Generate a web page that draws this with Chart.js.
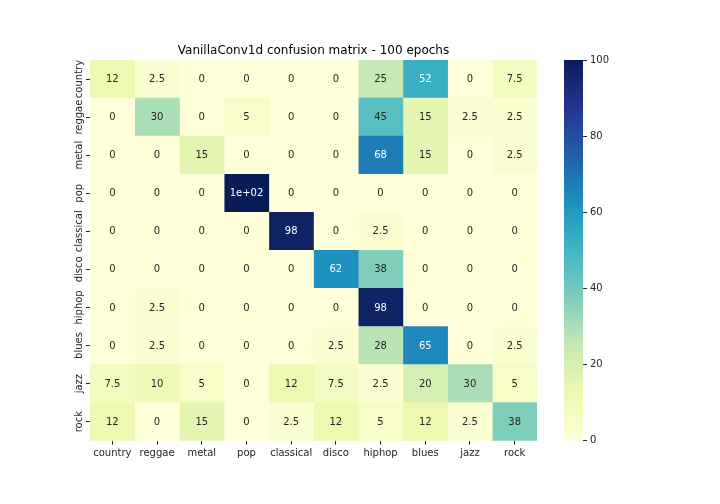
<!DOCTYPE html>
<html><head><meta charset="utf-8">
<script src="https://cdn.jsdelivr.net/npm/chart.js@4.4.0/dist/chart.umd.min.js"></script>
<style>
html,body{margin:0;padding:0;background:#fff;}
#wrap{position:relative;width:720px;height:504px;background:#fff;}
canvas{position:absolute;left:0;top:0;}
</style></head><body>
<div id="wrap"><canvas id="cm" width="720" height="504"></canvas><canvas id="cb" width="720" height="504"></canvas></div>
<script>
// ---- data ----
const genres = ['country','reggae','metal','pop','classical','disco','hiphop','blues','jazz','rock'];
const rowCountry   = [12.5, 2.5, 0, 0, 0, 0, 25, 52.5, 0, 7.5];
const rowReggae    = [0, 30, 0, 5, 0, 0, 45, 15, 2.5, 2.5];
const rowMetal     = [0, 0, 15, 0, 0, 0, 67.5, 15, 0, 2.5];
const rowPop       = [0, 0, 0, 100, 0, 0, 0, 0, 0, 0];
const rowClassical = [0, 0, 0, 0, 97.5, 0, 2.5, 0, 0, 0];
const rowDisco     = [0, 0, 0, 0, 0, 62.5, 37.5, 0, 0, 0];
const rowHiphop    = [0, 2.5, 0, 0, 0, 0, 97.5, 0, 0, 0];
const rowBlues     = [0, 2.5, 0, 0, 0, 2.5, 27.5, 65, 0, 2.5];
const rowJazz      = [7.5, 10, 5, 0, 12.5, 7.5, 2.5, 20, 30, 5];
const rowRock      = [12.5, 0, 15, 0, 2.5, 12.5, 5, 12.5, 2.5, 37.5];
const matrix = [rowCountry,rowReggae,rowMetal,rowPop,rowClassical,rowDisco,rowHiphop,rowBlues,rowJazz,rowRock];
const colorbarTicks = [0, 20, 40, 60, 80, 100];
const titleText = 'VanillaConv1d confusion matrix - 100 epochs';
const vmin = 0, vmax = 100;

// ---- colormap (YlGnBu) ----
const cmapStops = ['#ffffd9','#edf8b1','#c7e9b4','#7fcdbb','#41b6c4','#1d91c0','#225ea8','#253494','#081d58'];
const stopRGB = cmapStops.map(h => [1,3,5].map(k => parseInt(h.substr(k,2),16)));
function cmapRGB(v){
  let t = (v - vmin) / (vmax - vmin);
  t = Math.max(0, Math.min(1, t));
  const n = stopRGB.length - 1;
  const p = t * n;
  const i = Math.min(n - 1, Math.floor(p));
  const f = p - i;
  return stopRGB[i].map((c,k) => c + (stopRGB[i+1][k] - c) * f);
}
function cmap(v){
  const c = cmapRGB(v);
  return 'rgb(' + c.map(x => Math.round(x)).join(',') + ')';
}
function textColor(v){
  const lin = cmapRGB(v).map(c => { c /= 255; return c <= 0.03928 ? c/12.92 : Math.pow((c+0.055)/1.055, 2.4); });
  const lum = 0.2126*lin[0] + 0.7152*lin[1] + 0.0722*lin[2];
  return lum > 0.408 ? '#262626' : '#ffffff';
}
function roundHalfEven(x, d){
  const m = Math.pow(10, d);
  const s = x * m;
  const f = Math.floor(s);
  if (Math.abs(s - f - 0.5) < 1e-9) return (f % 2 === 0 ? f : f + 1) / m;
  return Math.round(s) / m;
}
function strip(s){ return s.indexOf('.') >= 0 ? s.replace(/0+$/,'').replace(/\.$/,'') : s; }
function fmt2g(v){
  if (v === 0) return '0';
  const e = Math.floor(Math.log10(Math.abs(v)));
  const r = roundHalfEven(v, 1 - e);
  const e2 = Math.floor(Math.log10(Math.abs(r)));
  if (e2 >= 2 || e2 < -4){
    const mant = strip((r / Math.pow(10, e2)).toFixed(1));
    return mant + 'e' + (e2 < 0 ? '-' : '+') + String(Math.abs(e2)).padStart(2,'0');
  }
  return strip(r.toFixed(Math.max(0, 1 - e2)));
}

Chart.defaults.font.family = '"DejaVu Sans", sans-serif';
Chart.defaults.font.size = 10;
Chart.defaults.color = '#262626';
Chart.defaults.animation = false;

const annotate = {
  id: 'annotate',
  afterDatasetsDraw(chart){
    const {ctx, scales:{x, y}} = chart;
    ctx.save();
    ctx.font = '10px "DejaVu Sans", sans-serif';
    ctx.textAlign = 'center';
    ctx.textBaseline = 'middle';
    matrix.forEach((row, i) => row.forEach((v, j) => {
      ctx.fillStyle = textColor(v);
      ctx.fillText(fmt2g(v), x.getPixelForValue(j + 0.5), y.getPixelForValue(i) + 0.5);
    }));
    ctx.restore();
  }
};

const datasets = genres.map((g, j) => ({
  label: g,
  data: matrix.map(() => [j, j + 1]),
  backgroundColor: matrix.map(row => cmap(row[j])),
  borderWidth: 0,
  barPercentage: 1,
  categoryPercentage: 1
}));

new Chart(document.getElementById('cm'), {
  type: 'bar',
  data: { labels: genres, datasets },
  plugins: [annotate],
  options: {
    responsive: false,
    indexAxis: 'y',
    layout: { padding: { left: 60, right: 183, top: 43.6, bottom: 33.3 } },
    plugins: {
      legend: { display: false },
      tooltip: { enabled: false },
      title: {
        display: true, text: titleText, fullSize: false,
        font: { size: 12, weight: 'normal' }, color: '#000',
        padding: { top: 0, bottom: 2 }
      }
    },
    scales: {
      x: {
        type: 'linear', min: 0, max: 10, stacked: false,
        afterBuildTicks: ax => { ax.ticks = genres.map((g, i) => ({ value: i + 0.5 })); },
        afterFit: ax => { ax.height = 30; },
        ticks: { callback: (v, i) => genres[i], padding: 3, color: '#262626', maxRotation: 0, autoSkip: false },
        grid: { drawOnChartArea: false, drawTicks: true, tickLength: 4, color: '#262626', offset: false },
        border: { display: false }
      },
      y: {
        type: 'category', stacked: true, offset: true,
        afterFit: ax => { ax.width = 30; },
        ticks: { minRotation: 90, maxRotation: 90, crossAlign: 'center', padding: -14, color: '#262626', autoSkip: false },
        grid: { drawOnChartArea: false, drawTicks: true, tickLength: 4, color: '#262626', offset: false },
        border: { display: false }
      }
    }
  }
});

// ---- colorbar ----
new Chart(document.getElementById('cb'), {
  type: 'bar',
  data: { labels: [''], datasets: [{
    data: [[vmin, vmax]],
    borderWidth: 0, barPercentage: 1, categoryPercentage: 1,
    backgroundColor: (c) => {
      const ca = c.chart.chartArea;
      if (!ca) return cmapStops[0];
      const g = c.chart.ctx.createLinearGradient(0, ca.bottom, 0, ca.top);
      cmapStops.forEach((s, k) => g.addColorStop(k / (cmapStops.length - 1), s));
      return g;
    }
  }]},
  options: {
    responsive: false,
    layout: { padding: { left: 564, right: 107, top: 60, bottom: 63.3 } },
    plugins: { legend: { display: false }, tooltip: { enabled: false } },
    scales: {
      x: { display: false },
      y: {
        position: 'right', min: vmin, max: vmax,
        afterBuildTicks: ax => { ax.ticks = colorbarTicks.map(v => ({ value: v })); },
        afterFit: ax => { ax.width = 30; },
        ticks: { padding: 3, color: '#262626' },
        grid: { drawOnChartArea: false, drawTicks: true, tickLength: 4, color: '#262626' },
        border: { display: false }
      }
    }
  }
});
</script>
</body></html>
